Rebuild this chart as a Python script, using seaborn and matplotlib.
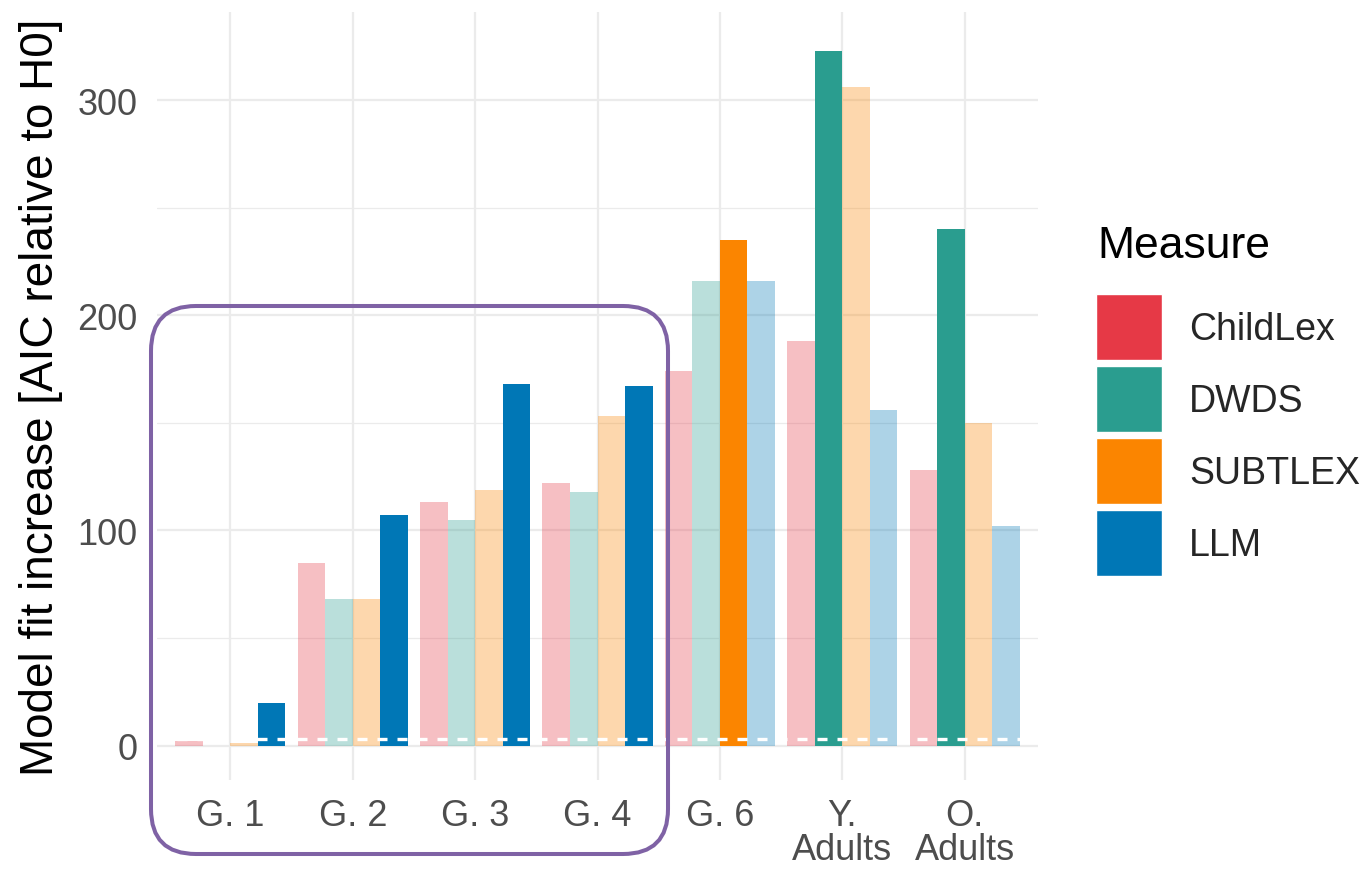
import numpy as np
import pandas as pd
import seaborn as sns
import matplotlib.pyplot as plt
from matplotlib.patches import FancyBboxPatch, Patch
from matplotlib.transforms import IdentityTransform

groups = ["G. 1", "G. 2", "G. 3", "G. 4", "G. 6", "Y.\nAdults", "O.\nAdults"]
measures = ["ChildLex", "DWDS", "SUBTLEX", "LLM"]
childlex = [2, 85, 113, 122, 174, 188, 128]
dwds = [0, 68, 105, 118, 216, 323, 240]
subtlex = [1, 68, 119, 153, 235, 306, 150]
llm = [20, 107, 168, 167, 216, 156, 102]
colors = ["#E63946", "#2A9D8F", "#FB8500", "#0077B6"]

df = pd.DataFrame({
    "Group": np.tile(groups, 4),
    "Measure": np.repeat(measures, len(groups)),
    "AIC": childlex + dwds + subtlex + llm,
})

sns.set_theme(style="whitegrid")
plt.rcParams["font.family"] = ["Liberation Sans", "DejaVu Sans"]

fig = plt.figure(figsize=(13.66, 8.7), dpi=100)
ax = fig.add_axes([157 / 1366, 1 - 781 / 870, (1038 - 157) / 1366, (781 - 13) / 870])

sns.barplot(data=df, x="Group", y="AIC", hue="Measure", order=groups,
            hue_order=measures, palette=colors, width=0.9, saturation=1,
            ax=ax, legend=False)

# best measure per group gets full colour, the rest are faded
vals = np.array([childlex, dwds, subtlex, llm])
best = vals.argmax(axis=0)
for i, cont in enumerate(ax.containers):
    for j, bar in enumerate(cont):
        bar.set_linewidth(0)
        bar.set_alpha(1.0 if best[j] == i else 0.32)

ax.axhline(3, color="white", lw=2.4, ls=(0, (3, 3)), zorder=5)

ax.set_xlim(-0.6, 6.6)
ax.set_ylim(-16, 341)
ax.set_yticks([0, 100, 200, 300])
ax.set_yticks([50, 150, 250], minor=True)
ax.grid(True, which="major", color="#EBEBEB", lw=1.6)
ax.grid(True, which="minor", axis="y", color="#EBEBEB", lw=0.9)
ax.set_axisbelow(True)
for s in ax.spines.values():
    s.set_visible(False)
ax.tick_params(axis="both", length=0, labelsize=26, colors="#4D4D4D")
ax.tick_params(axis="y", pad=14)
ax.tick_params(axis="x", pad=13)
for t in ax.get_xticklabels():
    t.set_linespacing(0.95)
ax.set_xlabel("")
ax.set_ylabel("Model fit increase [AIC relative to H0]", fontsize=33,
              color="black", labelpad=10)

fig.text(1097 / 1366, 1 - 226 / 870, "Measure", fontsize=32, color="black",
         ha="left", va="top")
handles = [Patch(facecolor=c, edgecolor="white", label=m) for c, m in zip(colors, measures)]
leg = fig.legend(handles=handles, loc="upper left",
                 bbox_to_anchor=(1096 / 1366, 1 - 295 / 870), frameon=False,
                 fontsize=27, handlelength=1.76, handleheight=2.33,
                 handletextpad=0.72, labelspacing=0.16,
                 borderpad=0, borderaxespad=0)

box = FancyBboxPatch((151, 870 - 855), 668 - 151, 855 - 307,
                     boxstyle="round,pad=0,rounding_size=45",
                     transform=IdentityTransform(), fill=False,
                     edgecolor="#7F62A5", lw=2.9, zorder=10)
fig.add_artist(box)

fig.savefig("out.png", dpi=100)
